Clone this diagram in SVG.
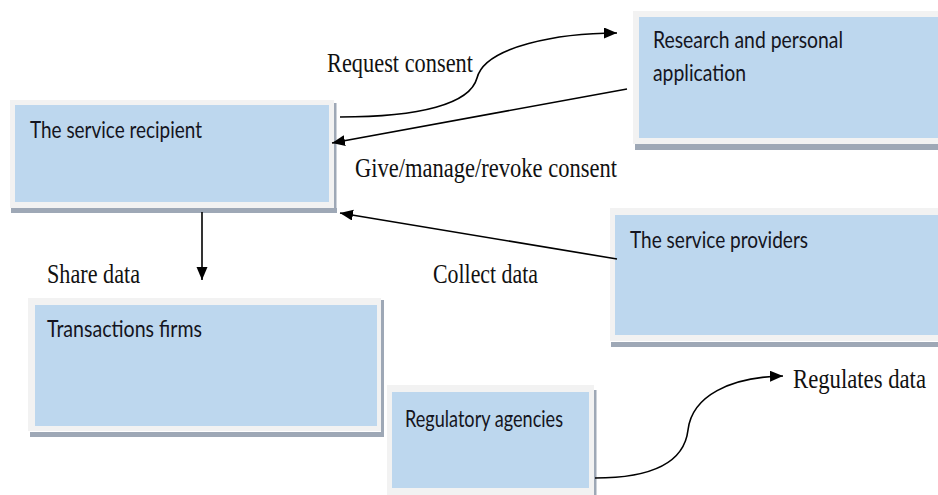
<svg xmlns="http://www.w3.org/2000/svg" width="938" height="495" viewBox="0 0 938 495">
  <style>
    .frame { fill: #f2f2f2; }
    .fill { fill: #bdd7ee; }
    .shade { fill: #9ea8b6; }
    .label { font-family: Lato, "Open Sans", "Liberation Sans", sans-serif; font-size: 23px; fill: #141420; }
    .note { font-family: "Liberation Serif", "DejaVu Serif", serif; font-size: 27px; fill: #111; }
    .wire { fill: none; stroke: #000; stroke-width: 1.6; }
  </style>
  <defs>
    <marker id="head" markerUnits="userSpaceOnUse" markerWidth="14" markerHeight="12" refX="13" refY="5.5" orient="auto">
      <path d="M0,0 L13,5.5 L0,11 z" fill="#000"/>
    </marker>
  </defs>

  <rect width="938" height="495" fill="#fff"/>

  <!-- Research and personal application -->
  <g id="research">
    <rect class="shade" x="635" y="144" width="303" height="6"/>
    <rect class="frame" x="633" y="11" width="305" height="133"/>
    <rect class="fill" x="639" y="17" width="299" height="121"/>
    <text class="label" x="653" y="48" textLength="190" lengthAdjust="spacingAndGlyphs">Research and personal</text>
    <text class="label" x="653" y="81" textLength="93" lengthAdjust="spacingAndGlyphs">application</text>
  </g>

  <!-- The service recipient -->
  <g id="recipient">
    <rect class="shade" x="334" y="103" width="2.5" height="110"/>
    <rect class="shade" x="11" y="208" width="326" height="5"/>
    <rect class="frame" x="10" y="100" width="324" height="108"/>
    <rect class="fill" x="15" y="105" width="314" height="97"/>
    <text class="label" x="30" y="138" textLength="172" lengthAdjust="spacingAndGlyphs">The service recipient</text>
  </g>

  <!-- The service providers -->
  <g id="providers">
    <rect class="shade" x="611" y="342" width="327" height="5"/>
    <rect class="frame" x="610" y="208" width="328" height="133"/>
    <rect class="fill" x="615" y="215" width="323" height="120"/>
    <text class="label" x="630" y="248" textLength="178" lengthAdjust="spacingAndGlyphs">The service providers</text>
  </g>

  <!-- Transactions firms -->
  <g id="transactions">
    <rect class="shade" x="381" y="300" width="3" height="137"/>
    <rect class="shade" x="30" y="432" width="354" height="5"/>
    <rect class="frame" x="28" y="298" width="353" height="133"/>
    <rect class="fill" x="35" y="305" width="342" height="121"/>
    <text class="label" x="47" y="337" textLength="155" lengthAdjust="spacingAndGlyphs">Transactions firms</text>
  </g>

  <!-- Regulatory agencies -->
  <g id="regulatory">
    <rect class="shade" x="594" y="390" width="2.5" height="105"/>
    <rect class="frame" x="387" y="385" width="207" height="110"/>
    <rect class="fill" x="392" y="392" width="197" height="96"/>
    <text class="label" x="405" y="427" textLength="158" lengthAdjust="spacingAndGlyphs">Regulatory agencies</text>
  </g>

  <!-- Connectors -->
  <g id="connectors">
    <path class="wire" marker-end="url(#head)" d="M340,117 C420,117 470,104 477,78 C485,46 560,33 617,33"/>
    <path class="wire" marker-end="url(#head)" d="M627,89 L332,143"/>
    <path class="wire" marker-end="url(#head)" d="M617,259 L340,213"/>
    <path class="wire" marker-end="url(#head)" d="M202,212 L202,280"/>
    <path class="wire" marker-end="url(#head)" d="M595,478 C650,478 684,464 688,430 C692,396 730,377 783,376"/>
  </g>

  <!-- Connector labels -->
  <g id="labels">
    <text class="note" x="327" y="72" textLength="146" lengthAdjust="spacingAndGlyphs">Request consent</text>
    <text class="note" x="355" y="177" textLength="262" lengthAdjust="spacingAndGlyphs">Give/manage/revoke consent</text>
    <text class="note" x="47" y="283" textLength="93" lengthAdjust="spacingAndGlyphs">Share data</text>
    <text class="note" x="433" y="283" textLength="105" lengthAdjust="spacingAndGlyphs">Collect data</text>
    <!-- narrow right margin: smaller size, stretched upright to keep the same glyph height -->
    <text class="note" transform="translate(793,388) scale(1,1.17)" x="0" y="0" style="font-size:23px" textLength="133" lengthAdjust="spacingAndGlyphs">Regulates data</text>
  </g>
</svg>
